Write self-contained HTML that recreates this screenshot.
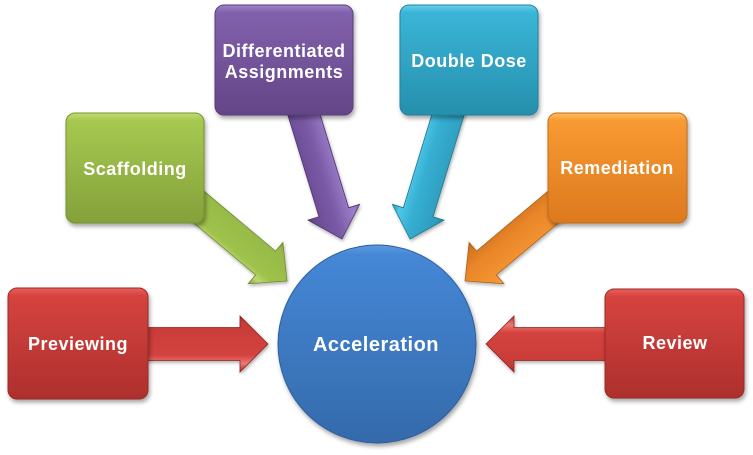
<!DOCTYPE html>
<html>
<head>
<meta charset="utf-8">
<style>
html,body{margin:0;padding:0;background:#ffffff;}
svg{display:block;}
text{font-family:"Liberation Sans",Arial,sans-serif;font-weight:bold;fill:#ffffff;letter-spacing:0.5px;}
</style>
</head>
<body>
<svg width="753" height="455" viewBox="0 0 753 455" xmlns="http://www.w3.org/2000/svg">
<defs>
  <filter id="sh" x="-20%" y="-20%" width="140%" height="150%">
    <feDropShadow dx="1.5" dy="3" stdDeviation="2" flood-color="#000" flood-opacity="0.35"/>
  </filter>
  <filter id="sh2" x="-20%" y="-20%" width="140%" height="150%">
    <feDropShadow dx="1" dy="2" stdDeviation="1.5" flood-color="#000" flood-opacity="0.3"/>
  </filter>
  <!-- box gradients -->
  <linearGradient id="gRed" x1="0" y1="0" x2="0" y2="1">
    <stop offset="0" stop-color="#e8615c"/><stop offset="0.07" stop-color="#d6433f"/>
    <stop offset="1" stop-color="#ad2f2c"/>
  </linearGradient>
  <linearGradient id="gGreen" x1="0" y1="0" x2="0" y2="1">
    <stop offset="0" stop-color="#c0dc70"/><stop offset="0.07" stop-color="#a6c850"/>
    <stop offset="1" stop-color="#84a13a"/>
  </linearGradient>
  <linearGradient id="gPurple" x1="0" y1="0" x2="0" y2="1">
    <stop offset="0" stop-color="#a084c6"/><stop offset="0.07" stop-color="#8161ab"/>
    <stop offset="1" stop-color="#644587"/>
  </linearGradient>
  <linearGradient id="gTeal" x1="0" y1="0" x2="0" y2="1">
    <stop offset="0" stop-color="#66d0ec"/><stop offset="0.07" stop-color="#3ab5d7"/>
    <stop offset="1" stop-color="#268fad"/>
  </linearGradient>
  <linearGradient id="gOrange" x1="0" y1="0" x2="0" y2="1">
    <stop offset="0" stop-color="#ffbb60"/><stop offset="0.07" stop-color="#f89a32"/>
    <stop offset="1" stop-color="#dc791e"/>
  </linearGradient>
  <linearGradient id="gBlue" x1="0" y1="0" x2="0" y2="1">
    <stop offset="0" stop-color="#5d9ae0"/><stop offset="0.05" stop-color="#4587d6"/>
    <stop offset="1" stop-color="#346aab"/>
  </linearGradient>
  <!-- arrow gradients (local frame, across shaft) -->
  <linearGradient id="aRed" x1="0" y1="0" x2="0" y2="1">
    <stop offset="0" stop-color="#9e2a27"/><stop offset="0.12" stop-color="#c63b37"/>
    <stop offset="0.7" stop-color="#d4433f"/><stop offset="0.85" stop-color="#ec7a74"/>
    <stop offset="1" stop-color="#a52e2b"/>
  </linearGradient>
  <linearGradient id="aGreen" x1="0" y1="0" x2="0" y2="1">
    <stop offset="0" stop-color="#7b9735"/><stop offset="0.12" stop-color="#96b847"/>
    <stop offset="0.7" stop-color="#9fc24c"/><stop offset="0.85" stop-color="#bcd872"/>
    <stop offset="1" stop-color="#809d38"/>
  </linearGradient>
  <linearGradient id="aPurple" x1="0" y1="0" x2="0" y2="1">
    <stop offset="0" stop-color="#8a6bb8"/><stop offset="0.15" stop-color="#9b7ec8"/>
    <stop offset="0.5" stop-color="#7a5aa6"/><stop offset="0.88" stop-color="#6a4b93"/>
    <stop offset="1" stop-color="#553a7a"/>
  </linearGradient>
  <linearGradient id="aTeal" x1="0" y1="0" x2="0" y2="1">
    <stop offset="0" stop-color="#2486a4"/><stop offset="0.15" stop-color="#2e9dbe"/>
    <stop offset="0.6" stop-color="#36afd2"/><stop offset="0.85" stop-color="#4fc8ea"/>
    <stop offset="1" stop-color="#2a95b4"/>
  </linearGradient>
  <linearGradient id="aOrange" x1="0" y1="0" x2="0" y2="1">
    <stop offset="0" stop-color="#f6a447"/><stop offset="0.15" stop-color="#f39431"/>
    <stop offset="0.6" stop-color="#e9862a"/><stop offset="0.88" stop-color="#d47520"/>
    <stop offset="1" stop-color="#b8631a"/>
  </linearGradient>
</defs>

<!-- Arrows (drawn first, behind boxes) -->
<g filter="url(#sh2)">
  <!-- Previewing -->
  <path transform="translate(268,344)" d="M0,0 L-28,-28 L-28,-16.5 L-180,-16.5 L-180,16.5 L-28,16.5 L-28,28 Z" fill="url(#aRed)" stroke="#8f2522" stroke-width="0.8"/>
  <!-- Review -->
  <path transform="translate(486,344) rotate(180)" d="M0,0 L-28,-28 L-28,-16.5 L-170,-16.5 L-170,16.5 L-28,16.5 L-28,28 Z" fill="url(#aRed)" stroke="#8f2522" stroke-width="0.8"/>
  <!-- Scaffolding -->
  <path transform="translate(287,281) rotate(40)" d="M0,0 L-28,-27 L-28,-15.5 L-170,-15.5 L-170,15.5 L-28,15.5 L-28,27 Z" fill="url(#aGreen)" stroke="#6f8a2e" stroke-width="0.8"/>
  <!-- Differentiated -->
  <path transform="translate(342,239) rotate(73)" d="M0,0 L-28,-27 L-28,-15.5 L-170,-15.5 L-170,15.5 L-28,15.5 L-28,27 Z" fill="url(#aPurple)" stroke="#4f3670" stroke-width="0.8"/>
  <!-- Double Dose -->
  <path transform="translate(410,239) rotate(107)" d="M0,0 L-28,-27 L-28,-15.5 L-170,-15.5 L-170,15.5 L-28,15.5 L-28,27 Z" fill="url(#aTeal)" stroke="#1f7892" stroke-width="0.8"/>
  <!-- Remediation -->
  <path transform="translate(465,281) rotate(140)" d="M0,0 L-28,-27 L-28,-15.5 L-170,-15.5 L-170,15.5 L-28,15.5 L-28,27 Z" fill="url(#aOrange)" stroke="#b0601a" stroke-width="0.8"/>
</g>

<!-- Boxes -->
<g filter="url(#sh)">
  <rect x="8" y="288" width="140" height="111" rx="9" fill="url(#gRed)" stroke="#9a2a27" stroke-width="1"/>
  <rect x="66" y="113" width="138" height="110" rx="9" fill="url(#gGreen)" stroke="#789533" stroke-width="1"/>
  <rect x="215" y="5" width="138" height="110" rx="9" fill="url(#gPurple)" stroke="#5a3e7c" stroke-width="1"/>
  <rect x="400" y="5" width="138" height="110" rx="9" fill="url(#gTeal)" stroke="#22839f" stroke-width="1"/>
  <rect x="548" y="113" width="139" height="110" rx="9" fill="url(#gOrange)" stroke="#c66c1b" stroke-width="1"/>
  <rect x="605" y="289" width="139" height="109" rx="9" fill="url(#gRed)" stroke="#9a2a27" stroke-width="1"/>
  <circle cx="377" cy="344" r="99" fill="url(#gBlue)" stroke="#2f5f9a" stroke-width="1"/>
</g>

<!-- Labels -->
<text x="78" y="350" font-size="18" text-anchor="middle">Previewing</text>
<text x="135" y="175" font-size="18" text-anchor="middle">Scaffolding</text>
<text x="284" y="57" font-size="18" text-anchor="middle">Differentiated</text>
<text x="284" y="78" font-size="18" text-anchor="middle">Assignments</text>
<text x="469" y="67" font-size="18" text-anchor="middle">Double Dose</text>
<text x="617" y="174" font-size="18" text-anchor="middle">Remediation</text>
<text x="675" y="349" font-size="18" text-anchor="middle">Review</text>
<text x="376" y="351" font-size="20" text-anchor="middle">Acceleration</text>
</svg>
</body>
</html>
